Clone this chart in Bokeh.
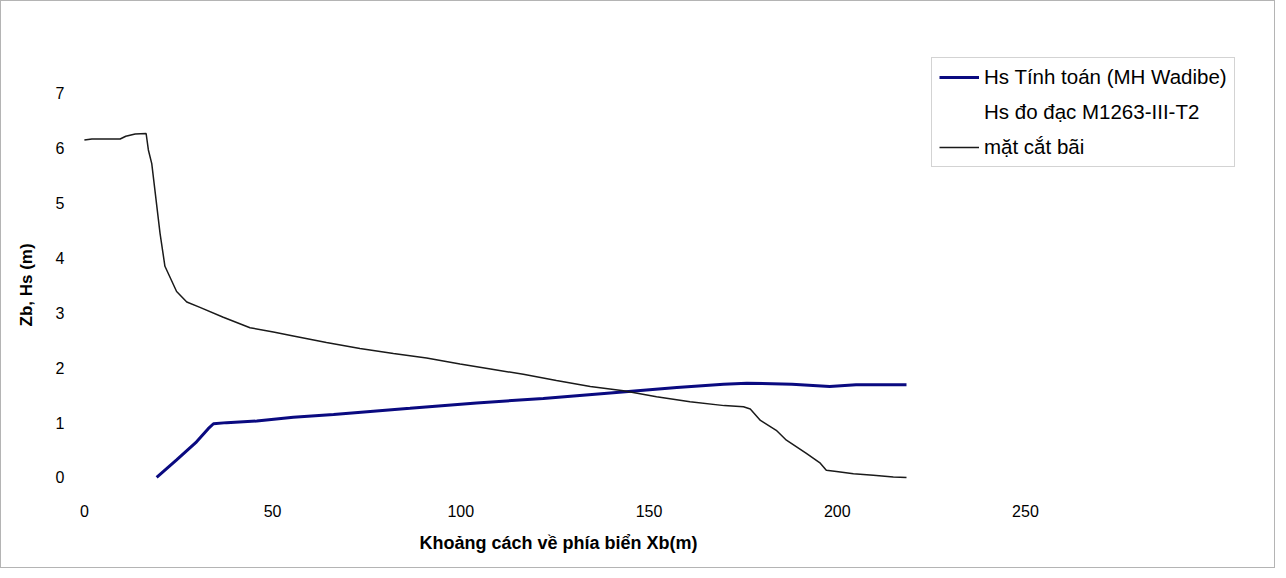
from bokeh.plotting import figure
from bokeh.models import Range1d, FixedTicker, Legend, LegendItem, Title
from bokeh.embed import file_html
from bokeh.resources import INLINE

# Beach profile (mặt cắt bãi)
zb_x = [0, 2, 9.5, 11, 13.5, 16.4, 17.0, 17.9, 20.1, 21.4, 24.5, 27.2, 30.7, 36.9, 44.0,
        50.2, 55.5, 64.3, 73.2, 82.1, 90.9, 99.8, 108.7, 116.6, 125.4, 134.4, 143.2,
        152.0, 160.9, 170.0, 175.1, 176.9, 179.6, 183.8, 186.5, 191.8, 195.5, 197.1,
        199.8, 204.3, 209.6, 214.9, 218.4]
zb_y = [6.15, 6.17, 6.17, 6.22, 6.26, 6.27, 5.97, 5.72, 4.45, 3.85, 3.39, 3.20, 3.10, 2.92, 2.73,
        2.65, 2.58, 2.46, 2.35, 2.26, 2.18, 2.07, 1.97, 1.88, 1.77, 1.66, 1.58,
        1.47, 1.38, 1.31, 1.29, 1.25, 1.04, 0.86, 0.68, 0.44, 0.26, 0.13,
        0.11, 0.07, 0.04, 0.01, 0.0]

# Computed wave height (Hs Tính toán)
hs_x = [19.2, 24.5, 29.8, 32.9, 34.3, 37.8, 45.8, 55.5, 66.2, 86.5, 104.2, 121.9, 139.7,
        157.4, 169.8, 176.0, 188.0, 198.0, 205.0, 218.4]
hs_y = [0.0, 0.32, 0.65, 0.89, 0.98, 1.0, 1.03, 1.10, 1.15, 1.26, 1.36, 1.44, 1.54,
        1.64, 1.70, 1.72, 1.70, 1.66, 1.69, 1.69]

x_ticks = [0, 50, 100, 150, 200, 250]
y_ticks = [0, 1, 2, 3, 4, 5, 6, 7]

labels = ["Hs Tính toán (MH Wadibe)", "Hs đo đạc M1263-III-T2", "mặt cắt bãi"]
x_title = "Khoảng cách về phía biển Xb(m)"
y_title = "Zb, Hs (m)"

FONT = "Liberation Sans"

p = figure(width=1275, height=568, output_backend="svg", toolbar_location=None,
           x_range=Range1d(-0.5, 306.6), y_range=Range1d(-0.146, 7.765),
           min_border_left=81, min_border_right=38, min_border_top=50, min_border_bottom=84)
p.styles = {"border": "1px solid #b4b4b4"}
p.outline_line_color = None
p.grid.grid_line_color = None
p.background_fill_color = "white"
p.border_fill_color = "white"

for ax in (p.xaxis[0], p.yaxis[0]):
    ax.axis_line_color = None
    ax.major_tick_line_color = None
    ax.minor_tick_line_color = None
    ax.major_label_text_font = FONT
    ax.major_label_text_font_size = "16px"
    ax.major_label_text_color = "black"

p.xaxis.ticker = FixedTicker(ticks=x_ticks)
p.yaxis.ticker = FixedTicker(ticks=y_ticks)
p.xaxis.major_label_standoff = 13
p.yaxis.major_label_standoff = 12

xt = Title(text=x_title, align="left", offset=337, standoff=23,
           text_font=FONT, text_font_size="18px", text_font_style="bold", text_color="black")
p.add_layout(xt, "below")
yt = Title(text=y_title, align="left", offset=159, standoff=30, vertical_align="top",
           text_font=FONT, text_font_size="17px", text_font_style="bold", text_color="black")
p.add_layout(yt, "left")

r_hs = p.line(hs_x, hs_y, line_color="#0a0a80", line_width=3)
r_meas = p.line([], [], line_color="#0a0a80", line_alpha=0)
r_zb = p.line(zb_x, zb_y, line_color="#1a1a1a", line_width=1.5)

legend = Legend(items=[LegendItem(label=labels[0], renderers=[r_hs]),
                       LegendItem(label=labels[1], renderers=[r_meas]),
                       LegendItem(label=labels[2], renderers=[r_zb])],
                location=(849, 318))
legend.label_text_font = FONT
legend.label_text_font_size = "20.5px"
legend.label_text_color = "black"
legend.glyph_width = 40
legend.glyph_height = 20
legend.label_height = 20
legend.spacing = 11
legend.padding = 7
legend.label_standoff = 5
legend.margin = 0
legend.border_line_color = "#a8a8a8"
legend.border_line_width = 1
legend.background_fill_color = "white"
legend.background_fill_alpha = 1
p.add_layout(legend, "center")

open("out.html", "w").write(file_html(p, INLINE))
